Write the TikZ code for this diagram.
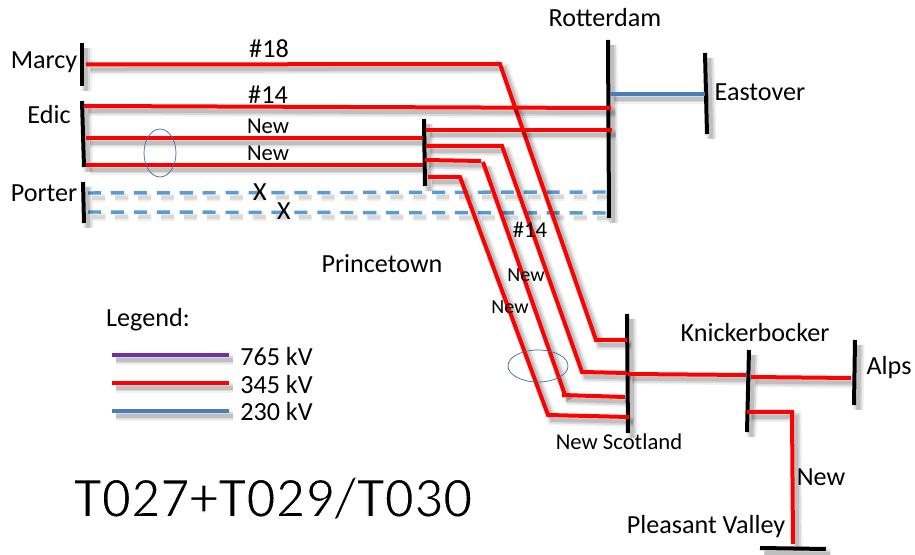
\documentclass[tikz,border=0pt]{standalone}
\usepackage{fontspec}
\setmainfont{Carlito}
\definecolor{lred}{HTML}{FF0000}
\definecolor{lblue}{HTML}{4A7EBB}
\definecolor{lpurple}{HTML}{7030A0}
\definecolor{ldash}{HTML}{5B9BD5}
\definecolor{lring}{HTML}{41719C}
\tikzset{
  softshadow/.style={
    preaction={draw=black,draw opacity=0.06,line width=#1+5,transform canvas={shift={(3.2pt,-3.6pt)}}},
    preaction={draw=black,draw opacity=0.09,line width=#1+2.5,transform canvas={shift={(3.2pt,-3.6pt)}}},
    preaction={draw=black,draw opacity=0.12,line width=#1,transform canvas={shift={(3.2pt,-3.6pt)}}}},
  bus/.style={draw=black,line width=3pt,softshadow=3pt},
  red line/.style={draw=lred,line width=3pt,line join=miter,softshadow=3pt},
  blue line/.style={draw=lblue,line width=2.6pt,softshadow=2.6pt},
  purple line/.style={draw=lpurple,line width=3pt,softshadow=3pt},
  out line/.style={draw=ldash,line width=2.6pt,dash pattern=on 9.8pt off 7.4pt,
    preaction={draw=black,draw opacity=0.06,line width=6pt,dash pattern=on 9.8pt off 7.4pt,transform canvas={shift={(3.2pt,-3.6pt)}}},
    preaction={draw=black,draw opacity=0.10,line width=3pt,dash pattern=on 9.8pt off 7.4pt,transform canvas={shift={(3.2pt,-3.6pt)}}}},
  ring/.style={draw=lring,line width=0.55pt},
  lab/.style={font=\fontsize{19.6}{23}\selectfont,text=black,inner sep=0pt},
  small lab/.style={font=\fontsize{15}{18}\selectfont,text=black,inner sep=0pt},
  mid lab/.style={font=\fontsize{17}{20}\selectfont,text=black,inner sep=0pt},
  title lab/.style={font=\fontsize{43.3}{50}\selectfont,text=black,inner sep=0pt},
}
\begin{document}
\begin{tikzpicture}[x=0.75pt,y=-0.75pt]
\useasboundingbox (0,0) rectangle (915,555);
% bus ends
\coordinate (mT) at (82,43); \coordinate (mB) at (82,86);
\coordinate (eT) at (82,101); \coordinate (eB) at (84,167);
\coordinate (poT) at (83,182); \coordinate (poB) at (84,223);
\coordinate (prT) at (424,119); \coordinate (prB) at (425,186);
\coordinate (rT) at (608,40); \coordinate (rB) at (609,218);
\coordinate (exT) at (705,53); \coordinate (exB) at (707,134);
\coordinate (nT) at (627,314); \coordinate (nB) at (628,433);
\coordinate (kT) at (749,350); \coordinate (kB) at (747,432);
\coordinate (aT) at (855,340); \coordinate (aB) at (854,405);
\coordinate (pL) at (760,548); \coordinate (pR) at (826,549);
% line points
\coordinate (a1) at (86,64.5); \coordinate (a2) at (500,64); \coordinate (a3) at (596,340); \coordinate (a4) at (627,340);
\coordinate (b1) at (84,106); \coordinate (b2) at (611,108);
\coordinate (c1) at (86,138); \coordinate (c2) at (423,138);
\coordinate (d1) at (86,165); \coordinate (d2) at (423,165);
\coordinate (f1) at (426,130); \coordinate (f2) at (612,130);
\coordinate (g1) at (426,146); \coordinate (g2) at (502,146); \coordinate (g3) at (582,372); \coordinate (g4) at (627,373);
\coordinate (h1) at (425,160); \coordinate (h2) at (481,161);
\coordinate (h3) at (483,162); \coordinate (h4) at (565,395); \coordinate (h5) at (562,395); \coordinate (h6) at (625,397);
\coordinate (i1) at (428,177); \coordinate (i2) at (460,177); \coordinate (i3) at (548,415); \coordinate (i4) at (629,417);
\coordinate (j1) at (628,374); \coordinate (j2) at (746,375);
\coordinate (k1) at (751,377); \coordinate (k2) at (851,378);
\coordinate (l1) at (747,412); \coordinate (l2) at (792,412); \coordinate (l3) at (793,544);
\coordinate (e1) at (610,94); \coordinate (e2) at (705,94);
\coordinate (q1) at (88,193); \coordinate (q2) at (607,192);
\coordinate (r1) at (88,212); \coordinate (r2) at (607,213);
\coordinate (la1) at (112,355); \coordinate (la2) at (229,355);
\coordinate (lb1) at (112,383); \coordinate (lb2) at (229,383);
\coordinate (lc1) at (112,411); \coordinate (lc2) at (229,411);
% outaged lines
\draw[out line] (q1) -- (q2);
\draw[out line] (r1) -- (r2);
% buses
\foreach \p/\q in {mT/mB,eT/eB,poT/poB,prT/prB,rT/rB,exT/exB,nT/nB,kT/kB,aT/aB,pL/pR}
  \draw[bus] (\p) -- (\q);
% lines
\draw[blue line] (e1) -- (e2);
\draw[red line] (a1) -- (a2) -- (a3) -- (a4);
\draw[red line] (b1) -- (b2);
\draw[red line] (c1) -- (c2);
\draw[red line] (d1) -- (d2);
\draw[red line] (f1) -- (f2);
\draw[red line] (g1) -- (g2) -- (g3) -- (g4);
\draw[red line] (h1) -- (h2);
\draw[red line] (h3) -- (h4);
\draw[red line] (h5) -- (h6);
\draw[red line] (i1) -- (i2) -- (i3) -- (i4);
\draw[red line] (j1) -- (j2);
\draw[red line] (k1) -- (k2);
\draw[red line] (l1) -- (l2) -- (l3);
% rings
\draw[ring] (160,153) ellipse [x radius=16,y radius=24];
\draw[ring] (538,366) ellipse [x radius=30,y radius=16];
% legend
\draw[purple line] (la1) -- (la2);
\draw[red line] (lb1) -- (lb2);
\draw[blue line] (lc1) -- (lc2);
% labels
\node[lab] (tR) at (605,18) {Rotterdam};
\node[lab] (tM) at (44,62.5) {Marcy};
\node[lab] (tE) at (49,115) {Edic};
\node[lab] (tP) at (44,193) {Porter};
\node[lab] (tEa) at (760,92) {Eastover};
\node[lab] (tPr) at (382,264) {Princetown};
\node[lab] (tK) at (755,333) {Knickerbocker};
\node[lab] (tA) at (889,368) {Alps};
\node[lab] (tNw) at (821,477) {New};
\node[lab] (tPV) at (706,527) {Pleasant Valley};
\node[lab] (t18) at (269,49) {\#18};
\node[lab] (t14) at (268,95) {\#14};
\node[mid lab] (tN1) at (268,126) {New};
\node[mid lab] (tN2) at (268,153) {New};
\node[lab] (tX1) at (260,192) {X};
\node[lab] (tX2) at (284,211) {X};
\node[mid lab] (t142) at (530,230) {\#14};
\node[small lab] (tN3) at (526,275) {New};
\node[small lab] (tN4) at (510,307) {New};
\node[mid lab] (tNS) at (619,442) {New Scotland};
\node[lab] (tL) at (148,320) {Legend:};
\node[lab,anchor=west] (t765) at (240,357) {765 kV};
\node[lab,anchor=west] (t345) at (240,385) {345 kV};
\node[lab,anchor=west] (t230) at (240,412) {230 kV};
\node[title lab] (tT) at (273,498) {\special{pdf:code q 2 Tr 0.9 w 1 1 1 RG}T027+T029/T030\special{pdf:code Q}};
\end{tikzpicture}
\end{document}
